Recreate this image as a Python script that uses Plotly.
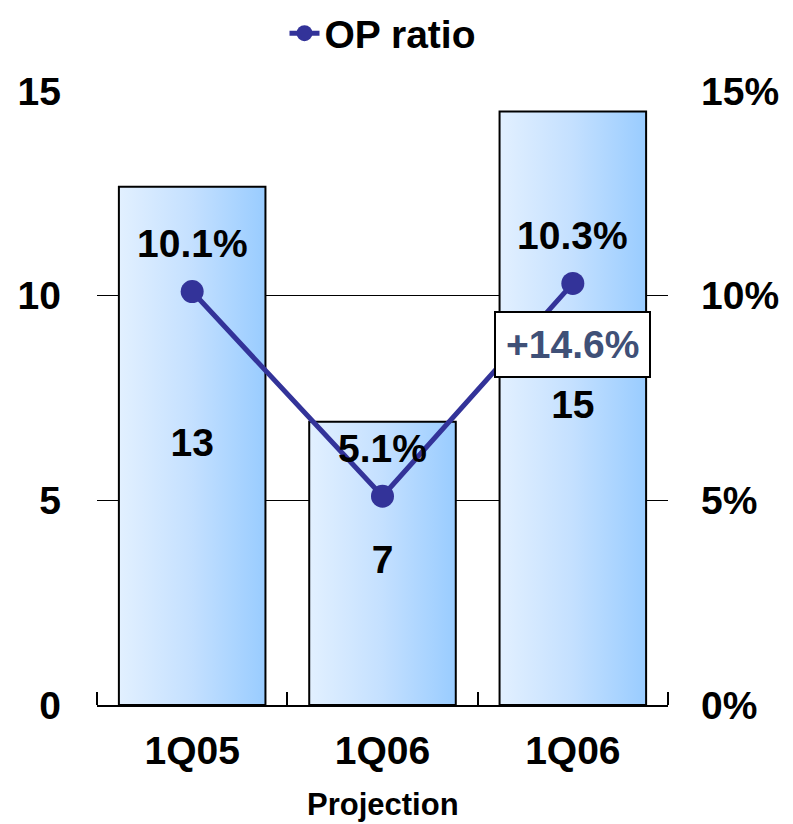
import plotly.graph_objects as go

categories = ["1Q05", "1Q06", "1Q06"]
sub_label = "Projection"
op_values = [12.66, 6.92, 14.5]
op_labels = ["13", "7", "15"]
op_ratio = [0.101, 0.051, 0.103]
ratio_labels = ["10.1%", "5.1%", "10.3%"]
growth_label = "+14.6%"

FONT = "Liberation Sans, Arial, sans-serif"
BAR_W = 0.77
xs = list(range(len(categories)))

def bfont(size, color="black"):
    return dict(family=FONT, size=size, color=color, weight="bold")

fig = go.Figure()

# bars with horizontal gradient fill and black outline
for i, v in zip(xs, op_values):
    fig.add_trace(go.Scatter(
        x=[i - BAR_W / 2, i + BAR_W / 2, i + BAR_W / 2, i - BAR_W / 2, i - BAR_W / 2],
        y=[0, 0, v, v, 0],
        mode="lines", line=dict(width=2, color="black"), fill="toself",
        fillgradient=dict(type="horizontal",
                          colorscale=[[0, "#E2F0FF"], [0.5, "#C4E0FF"], [1, "#99CCFF"]]),
        hoverinfo="skip", showlegend=False, yaxis="y"))

# bar value labels (centered in bar)
fig.add_trace(go.Scatter(
    x=xs, y=[v / 2 for v in op_values], mode="text", text=op_labels,
    textposition="middle center", textfont=bfont(39),
    hoverinfo="skip", showlegend=False, yaxis="y"))

fig.add_trace(go.Scatter(
    x=xs, y=op_ratio, mode="lines+markers", name="OP ratio",
    line=dict(color="#333399", width=5),
    marker=dict(size=23, color="#333399"),
    yaxis="y2"))

for i, r, t in zip(xs, op_ratio, ratio_labels):
    fig.add_annotation(x=i, y=r, xref="x", yref="y2", text=t, showarrow=False,
                       yshift=48, font=bfont(39))

fig.add_annotation(x=xs[2], y=8.8, xref="x", yref="y", text=growth_label,
                   showarrow=False, bgcolor="white", bordercolor="black",
                   borderwidth=2, borderpad=10,
                   font=bfont(39, "#3F5077"))

fig.add_annotation(x=0.5, y=0, xref="paper", yref="y", text=sub_label,
                   showarrow=False, yshift=-99,
                   font=bfont(31))

fig.update_layout(
    width=785, height=816,
    margin=dict(l=89, r=125, t=83, b=119, autoexpand=False),
    paper_bgcolor="white", plot_bgcolor="white",
    font=dict(family=FONT, color="black"),
    showlegend=True,
    legend=dict(orientation="h", x=0.5, xanchor="center", y=1.094, yanchor="middle",
                font=bfont(39)),
    xaxis=dict(range=[-0.5, 2.5], tickmode="array", tickvals=xs, ticktext=categories,
               ticks="", showgrid=False, zeroline=False,
               showline=True, linecolor="black", linewidth=2,
               ticklabelstandoff=10,
               tickfont=bfont(39),
               minor=dict(tickmode="array", tickvals=[-0.5, 0.5, 1.5, 2.5],
                          ticks="inside", ticklen=13, tickwidth=2, tickcolor="black",
                          showgrid=False)),
    yaxis=dict(range=[0, 15], tickvals=[0, 5, 10, 15], showgrid=True,
               gridcolor="black", gridwidth=1, zeroline=False, showline=False,
               ticks="", ticklabelstandoff=35,
               tickfont=bfont(39)),
    yaxis2=dict(range=[0, 0.15], tickvals=[0, 0.05, 0.10, 0.15], tickformat=".0%",
                overlaying="y", side="right", showgrid=False, zeroline=False,
                showline=False, ticks="", ticklabelstandoff=32,
                tickfont=bfont(39)),
)

fig.write_html("out.html")
